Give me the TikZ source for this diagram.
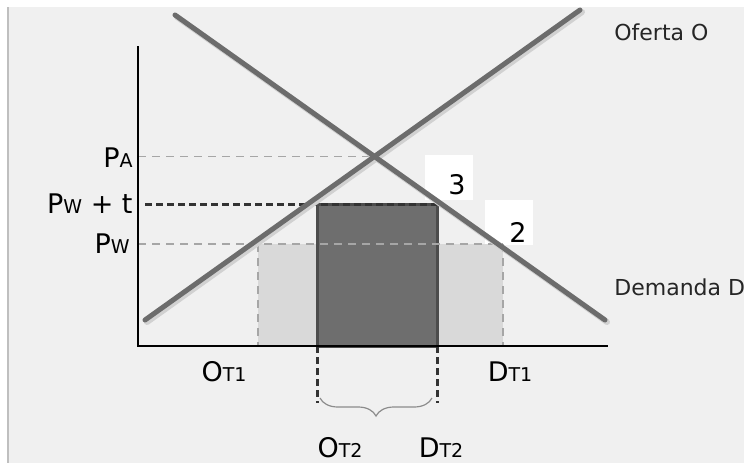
\documentclass[tikz,border=0pt]{standalone}
\usepackage{fontspec}
\setmainfont{DejaVu Sans}
\usepackage{xcolor}
\usetikzlibrary{decorations.pathreplacing,calc}
\definecolor{bggray}{RGB}{240,240,240}
\definecolor{curvegray}{RGB}{108,108,108}
\definecolor{lightfill}{RGB}{217,217,217}
\definecolor{darkfill}{RGB}{110,110,110}
\newcommand{\smcap}[1]{{\fontsize{9.5}{10}\selectfont #1}}

\begin{document}
\begin{tikzpicture}[
  x=0.5pt, y={(0pt,-0.5pt)},
  lbl/.style={font=\fontsize{13.5}{14}\selectfont, inner sep=0pt},
  note/.style={font=\fontsize{11}{12}\selectfont, inner sep=0pt, anchor=west, text=black!85},
  axisline/.style={line width=1pt, black},
  curve/.style={line width=2.5pt, curvegray, line cap=round},
  curveshadow/.style={line width=3pt, black!18, line cap=round},
  gdash/.style={line width=0.8pt, black!35, dash pattern=on 4pt off 3pt},
  kdash/.style={line width=1.5pt, black!80, dash pattern=on 3.5pt off 2pt},
  lightbox/.style={fill=lightfill},
  darkbox/.style={fill=darkfill, draw=black!70, line width=1.5pt},
  numbox/.style={fill=white}
]
\useasboundingbox (0,0) rectangle (744,466);
\fill[bggray] (8,7) rectangle (744,463);
\draw[black!25, line width=0.8pt] (8,7) -- (8,463);

\coordinate (o) at (138,346);
\coordinate (ytop) at (138,46);
\coordinate (xend) at (608,346);
\coordinate (s1) at (145,320);
\coordinate (s2) at (580,10);
\coordinate (d1) at (175,15);
\coordinate (d2) at (605,320);
\coordinate (e) at (intersection of s1--s2 and d1--d2);
\coordinate (pt0) at (145,204);
\coordinate (wt) at (437,204);
\coordinate (w1) at (317,346);
\coordinate (l1) at (258,244);
\coordinate (r1) at (503,244);
\coordinate (b1) at (317,403);
\coordinate (b2) at (437,403);
\coordinate (br1) at (320,398);
\coordinate (br2) at (432,398);

\fill[numbox] (425,155) rectangle (473,200);
\fill[numbox] (485,200) rectangle (533,245);

\fill[lightbox] (l1) rectangle (w1);
\fill[lightbox] (wt |- o) rectangle (r1);
\draw[darkbox] (w1) rectangle (wt);

\draw[gdash] (o |- e) -- (e);
\draw[gdash] (o |- l1) -- (r1);
\draw[gdash] (l1) -- (l1 |- o);
\draw[gdash] (r1) -- (r1 |- o);
\draw[kdash] (pt0) -- (wt);
\draw[kdash] (w1) -- (b1);
\draw[kdash] (wt |- o) -- (b2);
\draw[black!45, line width=0.6pt, decorate, decoration={brace, mirror, amplitude=9pt}] (br1) -- (br2);

\draw[curveshadow] ($(s1)+(2,2)$) -- ($(s2)+(2,2)$);
\draw[curveshadow] ($(d1)+(2,2)$) -- ($(d2)+(2,2)$);
\draw[curve] (s1) -- (s2);
\draw[curve] (d1) -- (d2);

\draw[axisline] (ytop) -- (o) -- (xend);

\node[lbl, anchor=east] (pa) at (133,158) {P\smcap{A}};
\node[lbl, anchor=east] (pwt) at (133,204) {P\smcap{W} + t};
\node[lbl, anchor=east] (pw) at (130,244) {P\smcap{W}};
\node[lbl] (ot1) at (224,372) {O\smcap{T1}};
\node[lbl] (dt1) at (510,372) {D\smcap{T1}};
\node[lbl] (ot2) at (340,448) {O\smcap{T2}};
\node[lbl] (dt2) at (441,448) {D\smcap{T2}};
\node[lbl] (n3) at (457,185) {3};
\node[lbl] (n2) at (518,232) {2};
\node[note] (of) at (614,32) {Oferta O};
\node[note] (dm) at (614,287) {Demanda D};
\end{tikzpicture}
\end{document}
